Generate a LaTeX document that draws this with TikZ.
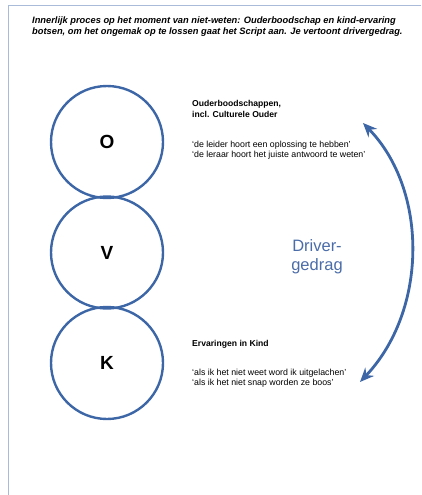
\documentclass[tikz,border=0pt]{standalone}
\usepackage{fontspec}
\setmainfont{Liberation Sans}
\usetikzlibrary{arrows.meta}
\definecolor{circblue}{HTML}{3C66A6}
\definecolor{frameblue}{HTML}{A9BBD8}
\definecolor{txtblue}{HTML}{4A6CA8}
\begin{document}
\begin{tikzpicture}[x=1pt,y=-1pt,
  circ/.style={draw=circblue,line width=2.4pt,circle,minimum size=112pt,inner sep=0pt,font=\bfseries\fontsize{19}{22}\selectfont},
  small/.style={anchor=north west,align=left,inner sep=0pt,font=\fontsize{8.8}{10.8}\selectfont},
  smallb/.style={anchor=north west,align=left,inner sep=0pt,font=\bfseries\fontsize{8.6}{10.2}\selectfont},
  dblarrow/.style={circblue,line width=2.8pt,>={Stealth[length=14pt,width=12pt]},<->}]
\useasboundingbox (0,0) rectangle (421,495);
\draw[frameblue,line width=0.8pt] (8,495) -- (8,5.5) -- (421,5.5);
\node[anchor=north west,align=left,inner sep=0pt,font=\bfseries\itshape\fontsize{9.3}{10.8}\selectfont] (hdr) at (32,16.5)
 {Innerlijk proces op het moment van niet-weten: Ouderboodschap en kind-ervaring\\botsen, om het ongemak op te lossen gaat het Script aan. Je vertoont drivergedrag.};
\node[circ] (O) at (107,142) {O};
\node[circ] (V) at (107,252.5) {V};
\node[circ] (K) at (107,363) {K};
\node[smallb] (ot) at (192,100.5) {Ouderboodschappen,\\incl. Culturele Ouder};
\node[small] (oq) at (192,140.5) {‘de leider hoort een oplossing te hebben’\\‘de leraar hoort het juiste antwoord te weten’};
\node[smallb] (kt) at (192,340.5) {Ervaringen in Kind};
\node[small] (kq) at (192,368.5) {‘als ik het niet weet word ik uitgelachen’\\‘als ik het niet snap worden ze boos’};
\node[align=center,inner sep=0pt,text=txtblue,font=\fontsize{16.5}{19}\selectfont] (dg) at (317,257) {Driver-\\gedrag};
\coordinate (a1) at (363,123);
\coordinate (a2) at (360,382);
\draw[dblarrow] (a1) .. controls (428,190) and (428,310) .. (a2);
\end{tikzpicture}
\end{document}
